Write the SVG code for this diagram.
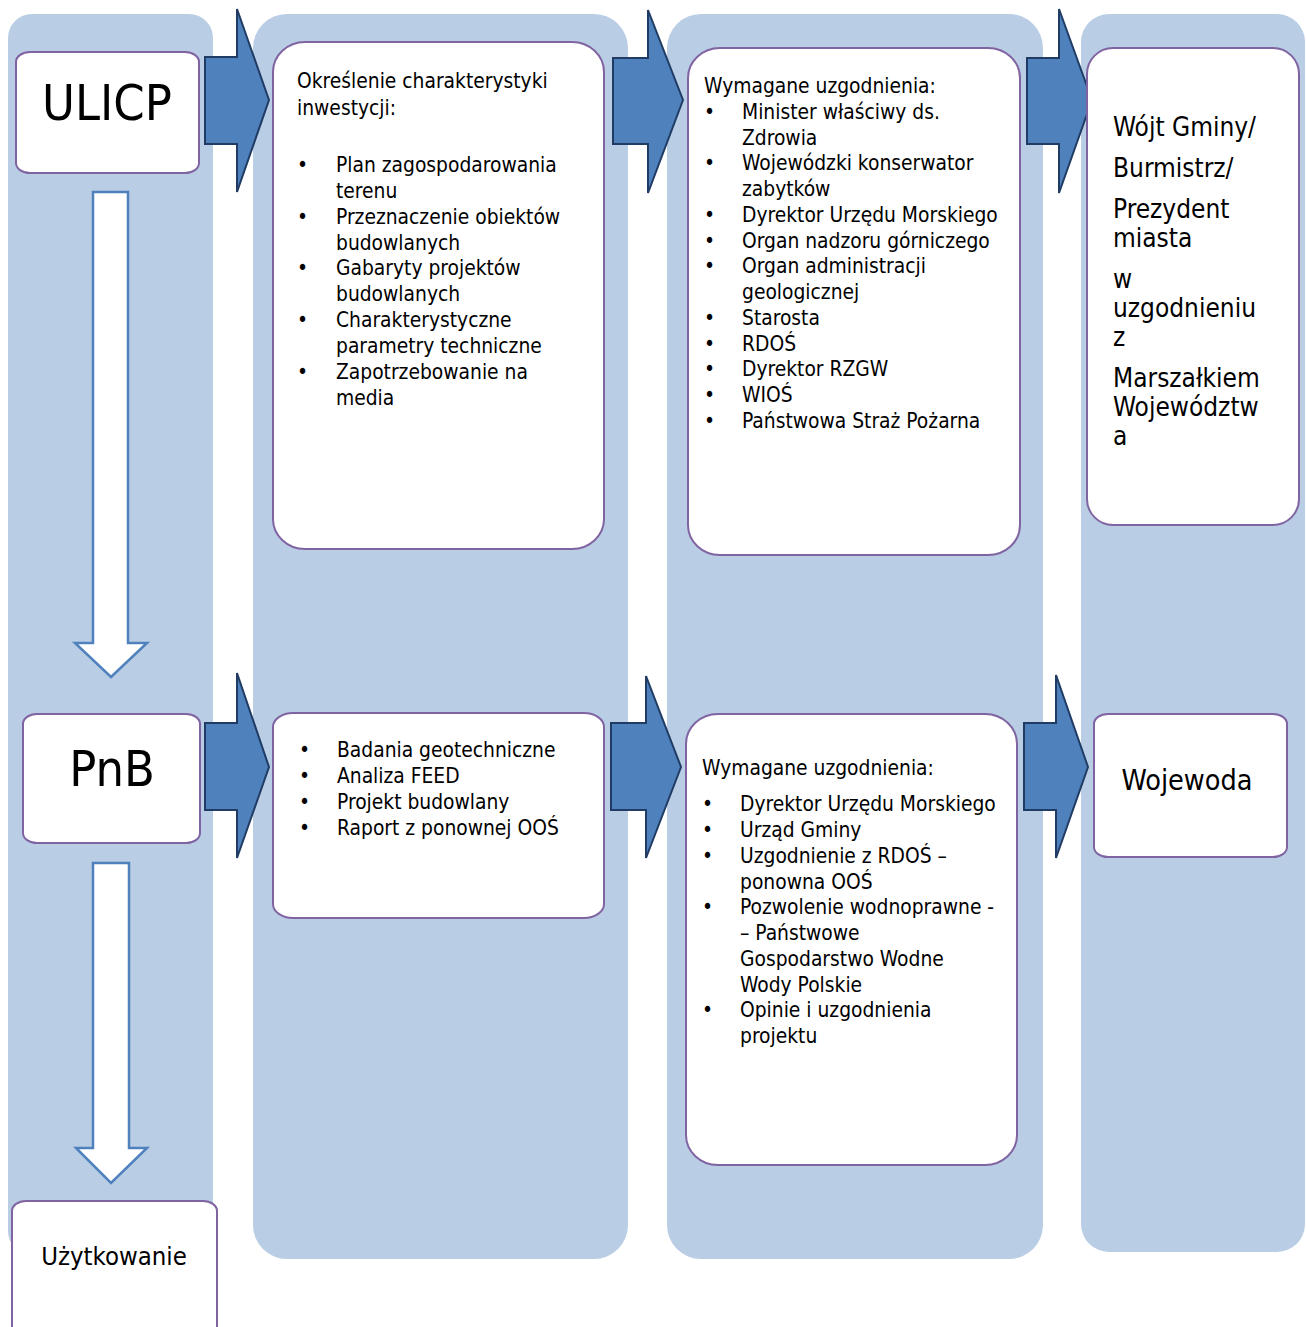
<svg xmlns="http://www.w3.org/2000/svg" width="1306" height="1327" viewBox="0 0 1306 1327">
<style>
.col{fill:#b9cde5;stroke:none}
.box{fill:#ffffff;stroke:#8064a2;stroke-width:2}
.arr{fill:#4f81bd;stroke:#203c64;stroke-width:2;stroke-linejoin:miter}
.darr{fill:#ffffff;stroke:#4f81bd;stroke-width:2.5}
text{font-family:"DejaVu Sans Condensed","DejaVu Sans",sans-serif;font-stretch:condensed;fill:#000000}
.t{font-size:20.8px}
.big{font-size:50px}
.mid{font-size:26px}
.w{font-size:28.5px}
.u{font-size:25.5px}
</style>
<rect width="1306" height="1327" fill="#ffffff"/>
<g id="columns">
<rect class="col" x="8" y="14" width="205" height="1241" rx="24" ry="24"/>
<rect class="col" x="253" y="14" width="375" height="1245" rx="34" ry="34"/>
<rect class="col" x="667" y="14" width="376" height="1245" rx="34" ry="34"/>
<rect class="col" x="1081" y="14" width="224" height="1238" rx="28" ry="28"/>
</g>
<g id="connectors">
<polygon class="arr" points="205,57 237,57 237,9 269,100 237,192 237,144 205,144"/>
<polygon class="arr" points="613,58 648,58 648,10 683,100 648,193 648,144 613,144"/>
<polygon class="arr" points="1027,58 1059,58 1059,9 1092,100 1059,193 1059,144 1027,144"/>
<polygon class="arr" points="205,723 237,723 237,673 269,767 237,858 237,810 205,810"/>
<polygon class="arr" points="611,723 646,723 646,676 681,767 646,858 646,810 611,810"/>
<polygon class="arr" points="1024,723 1056,723 1056,675 1088,767 1056,858 1056,810 1024,810"/>
<polygon class="darr" points="93,192 128,192 128,643 147,643 111,677 75,643 93,643"/>
<polygon class="darr" points="93,863 129,863 129,1148 147,1148 111,1183 76,1148 93,1148"/>
</g>
<g id="node-ulicp">
<rect class="box" x="16" y="52" width="183" height="121" rx="14" ry="10"/>
<text class="big" x="107" y="120" text-anchor="middle">ULICP</text>
</g>
<g id="node-pnb">
<rect class="box" x="23" y="714" width="177" height="129" rx="14" ry="10"/>
<text class="big" x="112" y="786" text-anchor="middle">PnB</text>
</g>
<g id="node-uzytkowanie">
<rect class="box" x="12" y="1201" width="205" height="140" rx="14" ry="10"/>
<text class="u" x="114" y="1265" text-anchor="middle">Użytkowanie</text>
</g>
<g id="node-charakterystyka">
<rect class="box" x="273" y="42" width="331" height="507" rx="32" ry="30"/>
<text class="t" x="297" y="88">Określenie charakterystyki</text>
<text class="t" x="297" y="115">inwestycji:</text>
<text class="t" x="297" y="172">•</text><text class="t" x="336" y="172">Plan zagospodarowania</text>
<text class="t" x="336" y="198">terenu</text>
<text class="t" x="297" y="224">•</text><text class="t" x="336" y="224">Przeznaczenie obiektów</text>
<text class="t" x="336" y="250">budowlanych</text>
<text class="t" x="297" y="275">•</text><text class="t" x="336" y="275">Gabaryty projektów</text>
<text class="t" x="336" y="301">budowlanych</text>
<text class="t" x="297" y="327">•</text><text class="t" x="336" y="327">Charakterystyczne</text>
<text class="t" x="336" y="353">parametry techniczne</text>
<text class="t" x="297" y="379">•</text><text class="t" x="336" y="379">Zapotrzebowanie na</text>
<text class="t" x="336" y="405">media</text>
</g>
<g id="node-uzgodnienia-ulicp">
<rect class="box" x="688" y="48" width="332" height="507" rx="32" ry="30"/>
<text class="t" x="704" y="93">Wymagane uzgodnienia:</text>
<text class="t" x="704" y="119">•</text><text class="t" x="742" y="119">Minister właściwy ds.</text>
<text class="t" x="742" y="145">Zdrowia</text>
<text class="t" x="704" y="170">•</text><text class="t" x="742" y="170">Wojewódzki konserwator</text>
<text class="t" x="742" y="196">zabytków</text>
<text class="t" x="704" y="222">•</text><text class="t" x="742" y="222">Dyrektor Urzędu Morskiego</text>
<text class="t" x="704" y="248">•</text><text class="t" x="742" y="248">Organ nadzoru górniczego</text>
<text class="t" x="704" y="273">•</text><text class="t" x="742" y="273">Organ administracji</text>
<text class="t" x="742" y="299">geologicznej</text>
<text class="t" x="704" y="325">•</text><text class="t" x="742" y="325">Starosta</text>
<text class="t" x="704" y="351">•</text><text class="t" x="742" y="351">RDOŚ</text>
<text class="t" x="704" y="376">•</text><text class="t" x="742" y="376">Dyrektor RZGW</text>
<text class="t" x="704" y="402">•</text><text class="t" x="742" y="402">WIOŚ</text>
<text class="t" x="704" y="428">•</text><text class="t" x="742" y="428">Państwowa Straż Pożarna</text>
</g>
<g id="node-wojt">
<rect class="box" x="1087" y="48" width="212" height="477" rx="26" ry="26"/>
<text class="mid" x="1113" y="136">Wójt Gminy/</text>
<text class="mid" x="1113" y="177">Burmistrz/</text>
<text class="mid" x="1113" y="218">Prezydent</text>
<text class="mid" x="1113" y="247">miasta</text>
<text class="mid" x="1113" y="288">w</text>
<text class="mid" x="1113" y="317">uzgodnieniu</text>
<text class="mid" x="1113" y="346">z</text>
<text class="mid" x="1113" y="387">Marszałkiem</text>
<text class="mid" x="1113" y="416">Województw</text>
<text class="mid" x="1113" y="445">a</text>
</g>
<g id="node-projekt">
<rect class="box" x="273" y="713" width="331" height="205" rx="20" ry="14"/>
<text class="t" x="299" y="757">•</text><text class="t" x="337" y="757">Badania geotechniczne</text>
<text class="t" x="299" y="783">•</text><text class="t" x="337" y="783">Analiza FEED</text>
<text class="t" x="299" y="809">•</text><text class="t" x="337" y="809">Projekt budowlany</text>
<text class="t" x="299" y="835">•</text><text class="t" x="337" y="835">Raport z ponownej OOŚ</text>
</g>
<g id="node-uzgodnienia-pnb">
<rect class="box" x="686" y="714" width="331" height="451" rx="32" ry="30"/>
<text class="t" x="702" y="775">Wymagane uzgodnienia:</text>
<text class="t" x="702" y="811">•</text><text class="t" x="740" y="811">Dyrektor Urzędu Morskiego</text>
<text class="t" x="702" y="837">•</text><text class="t" x="740" y="837">Urząd Gminy</text>
<text class="t" x="702" y="863">•</text><text class="t" x="740" y="863">Uzgodnienie z RDOŚ –</text>
<text class="t" x="740" y="889">ponowna OOŚ</text>
<text class="t" x="702" y="914">•</text><text class="t" x="740" y="914">Pozwolenie wodnoprawne -</text>
<text class="t" x="740" y="940">– Państwowe</text>
<text class="t" x="740" y="966">Gospodarstwo Wodne</text>
<text class="t" x="740" y="992">Wody Polskie</text>
<text class="t" x="702" y="1017">•</text><text class="t" x="740" y="1017">Opinie i uzgodnienia</text>
<text class="t" x="740" y="1043">projektu</text>
</g>
<g id="node-wojewoda">
<rect class="box" x="1094" y="714" width="193" height="143" rx="14" ry="10"/>
<text class="w" x="1187" y="790" text-anchor="middle">Wojewoda</text>
</g>
</svg>
